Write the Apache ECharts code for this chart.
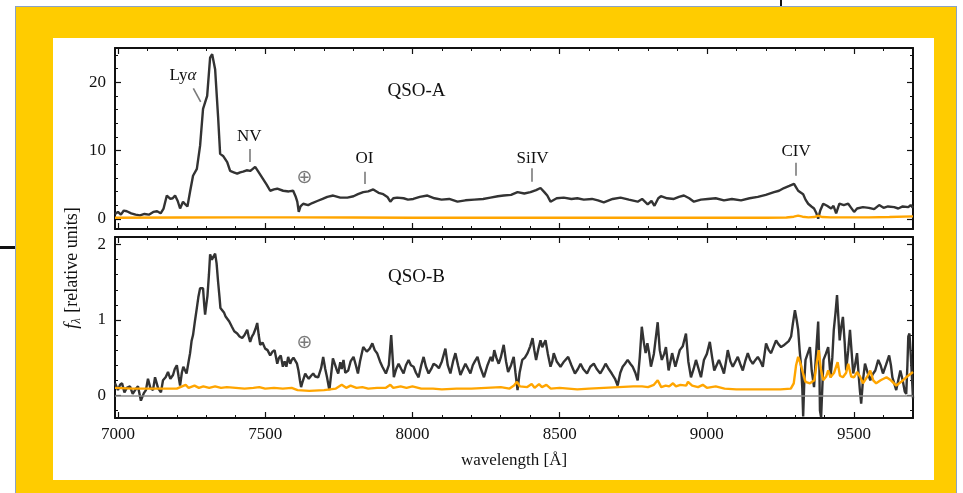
<!DOCTYPE html>
<html>
<head>
<meta charset="utf-8">
<script src="https://cdn.jsdelivr.net/npm/echarts@6/dist/echarts.min.js"></script>
<style>
html,body{margin:0;padding:0;background:#fff;width:963px;height:493px;overflow:hidden;position:relative}
.abs{position:absolute}
</style>
</head>
<body>
<div class="abs" style="left:15px;top:6px;width:942px;height:500px;background:#FFCC00;border:1px solid #8aa2c4;box-sizing:border-box"></div>
<div class="abs" style="left:53px;top:38px;width:881px;height:442px;background:#fff"></div>
<div class="abs" style="left:0px;top:246px;width:15px;height:3px;background:#111"></div>
<div class="abs" style="left:780px;top:0px;width:2px;height:6px;background:#111"></div>
<div id="chart" class="abs" style="left:0;top:0;width:963px;height:493px"></div>
<script>
// ---------------- data ----------------
const xMajor = [7000, 7500, 8000, 8500, 9000, 9500];
const xMinor = [7000,7100,7200,7300,7400,7500,7600,7700,7800,7900,8000,8100,8200,8300,8400,8500,8600,8700,8800,8900,9000,9100,9200,9300,9400,9500,9600,9700];
const yMajorA = [0, 10, 20];
const yMinorA = [0,2,4,6,8,10,12,14,16,18,20,22,24];
const yMajorB = [0, 1, 2];
const yMinorB = [-0.2,0,0.2,0.4,0.6,0.8,1,1.2,1.4,1.6,1.8,2];

// QSO-A flux (black)
const lamA = [6990,7000,7010,7020,7030,7045,7060,7075,7090,7105,7120,7133,7145,7155,7166,7178,7186,7194,7203,7211,7221,7229,7236,7245,7255,7268,7279,7289,7303,7313,7320,7330,7340,7347,7357,7371,7381,7393,7405,7415,7425,7437,7449,7458,7466,7475,7493,7505,7517,7530,7541,7561,7580,7595,7603,7609,7614,7620,7629,7646,7660,7677,7695,7711,7731,7755,7779,7800,7815,7833,7850,7867,7885,7901,7915,7925,7935,7948,7970,7985,8003,8025,8051,8075,8099,8125,8153,8180,8210,8240,8265,8290,8310,8335,8357,8380,8401,8420,8435,8448,8458,8469,8490,8514,8540,8560,8582,8610,8630,8650,8680,8707,8735,8765,8780,8799,8812,8822,8835,8844,8865,8888,8905,8922,8940,8956,8980,9003,9030,9058,9085,9116,9145,9173,9200,9228,9245,9262,9280,9296,9303,9310,9327,9335,9344,9355,9364,9372,9378,9385,9395,9408,9422,9430,9439,9450,9465,9480,9490,9500,9510,9530,9550,9568,9585,9600,9615,9636,9650,9665,9684,9692,9700];
const fluxA = [0.7,1.0,0.6,1.2,1.1,0.8,0.6,0.5,0.7,0.6,1.0,1.1,0.8,1.5,3.4,2.9,3.0,3.4,2.6,1.5,2.5,2.1,1.8,4.0,6.3,7.3,10.7,16.1,18.0,23.6,24.1,21.9,15.0,9.5,9.2,8.3,7.0,6.8,6.6,6.8,6.9,7.1,7.0,7.3,7.6,7.0,5.8,5.0,4.1,4.3,4.4,4.1,4.0,4.1,3.3,2.5,1.0,1.8,2.2,2.0,2.3,2.6,2.9,3.2,3.4,3.1,3.1,3.3,3.6,3.9,4.0,4.3,3.8,3.6,3.2,2.5,3.0,3.1,3.0,2.8,2.9,3.2,3.4,3.0,2.8,2.9,2.5,2.7,2.8,2.9,3.1,3.3,3.4,3.5,3.9,3.7,3.9,4.2,4.5,3.9,3.4,2.5,3.0,3.1,2.9,3.0,2.8,2.9,2.7,2.4,2.9,3.1,2.8,2.5,2.9,2.1,2.6,1.9,3.0,3.3,3.0,2.9,3.2,3.4,3.0,2.5,2.8,2.9,3.0,2.7,2.9,2.7,3.0,3.2,3.5,3.9,4.1,4.5,4.8,5.1,4.6,4.1,3.6,2.8,2.2,1.8,1.5,0.8,0.0,1.2,2.2,1.9,1.5,1.9,0.8,2.2,2.0,2.2,1.6,1.0,1.5,1.7,1.6,1.4,2.0,1.6,1.8,1.7,1.5,1.8,1.7,2.0,1.6];

// QSO-A noise (orange)
const lamAe = [6990,7200,7400,7600,7800,8000,8200,8400,8600,8800,9000,9200,9270,9295,9310,9325,9345,9365,9378,9392,9420,9480,9550,9620,9700];
const errA  = [0.15,0.18,0.2,0.2,0.18,0.15,0.15,0.15,0.15,0.15,0.15,0.15,0.18,0.3,0.45,0.3,0.2,0.25,0.45,0.25,0.2,0.2,0.2,0.25,0.35];

// QSO-B flux (black)
const lamB = [6990,7000,7007,7014,7022,7030,7041,7050,7060,7068,7078,7088,7095,7102,7110,7119,7126,7136,7146,7153,7162,7170,7178,7187,7193,7200,7206,7211,7217,7222,7228,7233,7240,7245,7250,7255,7262,7268,7273,7279,7285,7289,7293,7296,7300,7304,7309,7313,7319,7324,7330,7335,7340,7345,7348,7354,7360,7365,7370,7378,7387,7395,7405,7413,7422,7430,7439,7444,7449,7455,7461,7467,7473,7478,7483,7491,7500,7508,7517,7525,7532,7541,7547,7553,7560,7566,7572,7578,7585,7590,7596,7602,7608,7613,7618,7622,7627,7636,7642,7648,7656,7663,7670,7680,7690,7697,7704,7710,7718,7724,7730,7735,7742,7748,7755,7760,7766,7772,7782,7790,7800,7808,7815,7822,7833,7845,7855,7864,7872,7880,7890,7898,7910,7920,7928,7937,7945,7953,7962,7970,7978,7987,7995,8004,8012,8021,8030,8038,8046,8055,8064,8072,8080,8090,8100,8112,8120,8129,8138,8146,8155,8163,8172,8180,8188,8197,8205,8212,8221,8230,8243,8255,8266,8272,8278,8285,8293,8300,8310,8318,8325,8335,8344,8350,8357,8364,8373,8382,8391,8400,8408,8414,8420,8428,8435,8441,8447,8452,8460,8469,8475,8480,8490,8503,8515,8529,8540,8552,8562,8571,8580,8593,8604,8616,8626,8638,8647,8656,8665,8677,8688,8697,8706,8714,8722,8731,8740,8748,8757,8765,8772,8779,8786,8792,8798,8804,8810,8820,8833,8840,8847,8855,8861,8870,8882,8893,8908,8918,8929,8937,8946,8955,8963,8972,8980,8990,9000,9010,9018,9025,9033,9041,9050,9058,9065,9071,9080,9088,9097,9105,9113,9122,9130,9139,9147,9156,9165,9173,9182,9190,9196,9201,9210,9218,9227,9235,9243,9252,9260,9269,9278,9286,9292,9299,9305,9310,9315,9320,9324,9327,9331,9335,9342,9350,9356,9364,9370,9378,9382,9384,9388,9392,9396,9404,9412,9420,9426,9431,9437,9442,9447,9451,9456,9462,9468,9473,9480,9486,9492,9497,9503,9510,9516,9520,9524,9530,9537,9546,9555,9563,9572,9582,9590,9598,9608,9619,9625,9630,9637,9643,9650,9657,9665,9672,9677,9681,9684,9688,9693,9700];
const fluxB = [0.16,0.07,0.14,0.16,0.04,0.10,0.12,0.02,0.08,0.12,-0.07,0.03,0.07,0.22,0.10,0.07,0.24,0.10,0.04,0.20,0.24,0.31,0.22,0.27,0.35,0.40,0.25,0.13,0.30,0.38,0.33,0.29,0.45,0.56,0.72,0.80,1.00,1.16,1.30,1.42,1.40,1.42,1.20,1.07,1.20,1.32,1.60,1.87,1.80,1.82,1.88,1.75,1.51,1.30,1.16,1.13,1.10,1.05,1.04,0.98,0.91,0.85,0.82,0.78,0.76,0.80,0.87,0.78,0.71,0.78,0.82,0.88,0.96,0.80,0.67,0.70,0.62,0.60,0.53,0.58,0.60,0.42,0.50,0.53,0.38,0.45,0.38,0.51,0.42,0.47,0.50,0.51,0.42,0.33,0.20,0.11,0.18,0.29,0.25,0.22,0.26,0.29,0.25,0.24,0.36,0.51,0.35,0.24,0.07,0.28,0.49,0.51,0.35,0.29,0.44,0.35,0.47,0.30,0.33,0.45,0.51,0.40,0.29,0.45,0.64,0.58,0.62,0.69,0.60,0.56,0.45,0.38,0.29,0.40,0.80,0.24,0.35,0.42,0.35,0.29,0.40,0.47,0.40,0.38,0.30,0.24,0.40,0.51,0.38,0.29,0.35,0.42,0.40,0.36,0.45,0.62,0.40,0.29,0.45,0.56,0.40,0.27,0.35,0.42,0.36,0.29,0.40,0.45,0.51,0.38,0.24,0.40,0.51,0.45,0.60,0.50,0.42,0.50,0.67,0.45,0.31,0.40,0.51,0.30,0.07,0.30,0.47,0.50,0.56,0.65,0.76,0.60,0.47,0.62,0.73,0.64,0.64,0.73,0.55,0.38,0.45,0.56,0.45,0.38,0.45,0.51,0.40,0.29,0.35,0.42,0.35,0.29,0.38,0.42,0.35,0.29,0.35,0.42,0.36,0.29,0.22,0.13,0.30,0.38,0.42,0.47,0.42,0.38,0.30,0.20,0.50,0.91,0.70,0.56,0.69,0.56,0.38,0.55,0.97,0.60,0.47,0.55,0.64,0.33,0.56,0.38,0.60,0.65,0.82,0.45,0.24,0.35,0.47,0.35,0.24,0.47,0.55,0.71,0.50,0.33,0.40,0.47,0.38,0.29,0.45,0.60,0.45,0.38,0.45,0.51,0.42,0.33,0.45,0.56,0.47,0.42,0.47,0.51,0.45,0.38,0.55,0.69,0.60,0.56,0.65,0.73,0.68,0.64,0.66,0.69,0.72,0.78,0.95,1.13,1.00,0.87,0.60,0.38,0.10,-0.28,0.20,0.47,0.55,0.64,0.33,0.11,0.50,0.98,0.40,-0.20,-0.29,0.10,0.47,0.55,0.64,0.24,0.50,0.87,1.10,1.33,1.00,0.73,0.90,1.04,0.70,0.33,0.60,0.87,0.55,0.29,0.40,0.56,0.24,0.05,-0.11,0.20,0.42,0.30,0.20,0.28,0.33,0.47,0.40,0.29,0.40,0.53,0.40,0.24,0.15,0.07,0.20,0.33,0.20,0.05,0.02,0.40,0.78,0.82,0.50,-0.04];

// QSO-B noise (orange)
const lamBe = [6990,7050,7100,7150,7200,7230,7240,7260,7275,7290,7310,7330,7350,7370,7400,7430,7460,7480,7500,7530,7560,7590,7610,7650,7700,7740,7760,7775,7790,7810,7830,7850,7880,7910,7925,7935,7960,7980,8000,8030,8070,8100,8150,8200,8250,8300,8330,8345,8355,8365,8390,8405,8415,8430,8440,8455,8470,8500,8530,8560,8600,8650,8700,8750,8780,8800,8820,8833,8845,8860,8872,8885,8895,8910,8930,8936,8950,8970,8986,9000,9030,9060,9100,9150,9200,9250,9285,9295,9303,9310,9318,9326,9335,9350,9365,9372,9380,9387,9395,9405,9412,9420,9432,9444,9452,9462,9473,9480,9490,9500,9510,9520,9530,9545,9555,9565,9575,9590,9610,9625,9643,9660,9677,9690,9700];
const errB  = [0.10,0.09,0.09,0.09,0.09,0.14,0.10,0.13,0.10,0.12,0.10,0.12,0.10,0.11,0.10,0.09,0.10,0.11,0.09,0.10,0.09,0.10,0.07,0.06,0.07,0.09,0.14,0.10,0.13,0.10,0.11,0.09,0.10,0.10,0.14,0.10,0.12,0.10,0.12,0.09,0.09,0.08,0.09,0.09,0.10,0.11,0.09,0.13,0.18,0.12,0.11,0.15,0.10,0.15,0.11,0.14,0.09,0.10,0.09,0.08,0.09,0.10,0.11,0.12,0.12,0.11,0.14,0.20,0.11,0.13,0.12,0.16,0.12,0.14,0.13,0.18,0.13,0.11,0.14,0.10,0.12,0.09,0.08,0.08,0.08,0.08,0.09,0.16,0.40,0.51,0.42,0.30,0.18,0.16,0.20,0.40,0.60,0.35,0.20,0.25,0.33,0.24,0.30,0.44,0.26,0.24,0.30,0.42,0.25,0.24,0.31,0.25,0.16,0.25,0.33,0.20,0.16,0.20,0.24,0.20,0.13,0.18,0.24,0.28,0.31];

// annotations: [wavelength, value, text]
const labelsA = [[7221, 21.0, 'Ly{i|α}'], [7446, 12.1, 'NV'], [7837, 8.8, 'OI'], [8408, 8.8, 'SiIV'], [9303, 9.8, 'CIV'], [8014, 18.7, '{q|QSO-A}']];
const tellA = [[7633, 6.0]];
const ticksA = [[[7256, 19.1], [7281, 17.1]], [[7449, 10.2], [7449, 8.3]], [[7837, 6.9], [7837, 5.1]], [[8405, 7.4], [8405, 5.4]], [[9303, 8.2], [9303, 6.3]]];
const labelsB = [[8014, 1.57, '{q|QSO-B}']];
const tellB = [[7633, 0.69]];

// ---------------- chart ----------------
const FONT = "'Liberation Serif','DejaVu Serif','Times New Roman',serif";
const INK = '#111111';
const chart = echarts.init(document.getElementById('chart'), null, {renderer: 'canvas'});
const plain = v => String(v);

function xAxesFor(gi, showLabels) {
  const base = {type: 'value', gridIndex: gi, min: 6990, max: 9700, splitLine: {show: false}};
  const res = [];
  ['bottom', 'top'].forEach(pos => {
    res.push(Object.assign({}, base, {
      position: pos,
      axisLine: {show: true, onZero: false, lineStyle: {color: INK, width: 2}},
      axisTick: {show: true, inside: true, length: 6, customValues: xMajor, lineStyle: {color: INK, width: 1.2}},
      axisLabel: {show: showLabels && pos === 'bottom', customValues: xMajor, formatter: plain, fontFamily: FONT, fontSize: 17, color: INK, margin: 8},
      name: (showLabels && pos === 'bottom') ? 'wavelength [Å]' : '',
      nameLocation: 'middle', nameGap: 34,
      nameTextStyle: {fontFamily: FONT, fontSize: 17, color: INK}
    }));
    res.push(Object.assign({}, base, {
      position: pos,
      axisLine: {show: false, onZero: false},
      axisTick: {show: true, inside: true, length: 3, customValues: xMinor, lineStyle: {color: INK, width: 1}},
      axisLabel: {show: false}
    }));
  });
  return res;
}
function yAxesFor(gi, min, max, major, minor) {
  const base = {type: 'value', gridIndex: gi, min: min, max: max, splitLine: {show: false}};
  const res = [];
  ['left', 'right'].forEach(pos => {
    res.push(Object.assign({}, base, {
      position: pos,
      axisLine: {show: true, onZero: false, lineStyle: {color: INK, width: 2}},
      axisTick: {show: true, inside: true, length: 6, customValues: major, lineStyle: {color: INK, width: 1.2}},
      axisLabel: {show: pos === 'left', customValues: major, formatter: plain, fontFamily: FONT, fontSize: 17, color: INK, margin: 9}
    }));
    res.push(Object.assign({}, base, {
      position: pos,
      axisLine: {show: false, onZero: false},
      axisTick: {show: true, inside: true, length: 3, customValues: minor, lineStyle: {color: INK, width: 1}},
      axisLabel: {show: false}
    }));
  });
  return res;
}

const pair = (xs, ys) => xs.map((x, i) => [x, ys[i]]);
const labelSeries = (xi, yi, arr) => ({
  type: 'scatter', xAxisIndex: xi, yAxisIndex: yi, symbolSize: 1,
  itemStyle: {color: 'rgba(0,0,0,0)', opacity: 1}, silent: true, z: 5,
  data: arr,
  label: {show: true, position: 'inside', formatter: p => p.data[2], opacity: 1,
    fontFamily: FONT, fontSize: 17, color: INK,
    rich: {
      i: {fontFamily: FONT, fontStyle: 'italic', fontSize: 17, color: INK},
      q: {fontFamily: FONT, fontSize: 19, color: INK}
    }}
});
const tellSeries = (xi, yi, arr) => ({
  type: 'scatter', xAxisIndex: xi, yAxisIndex: yi, symbolSize: 1,
  itemStyle: {color: 'rgba(0,0,0,0)', opacity: 1}, silent: true, z: 5,
  data: arr,
  label: {show: true, position: 'inside', formatter: '⊕', opacity: 1, fontFamily: "'DejaVu Sans',sans-serif", fontSize: 19, color: '#7a7a7a'}
});

const option = {
  animation: false,
  backgroundColor: 'transparent',
  grid: [
    {left: 115, right: 50, top: 48, height: 181},
    {left: 115, right: 50, top: 237, height: 181}
  ],
  xAxis: [].concat(xAxesFor(0, false), xAxesFor(1, true)),
  yAxis: [].concat(yAxesFor(0, -1.5, 25, yMajorA, yMinorA), yAxesFor(1, -0.3, 2.1, yMajorB, yMinorB)),
  graphic: [{
    type: 'text', x: 72, y: 268, rotation: Math.PI / 2,
    style: {
      text: '{f|f}{s|λ}{n| [relative units]}',
      textAlign: 'center', textVerticalAlign: 'middle',
      rich: {
        f: {fontFamily: FONT, fontStyle: 'italic', fontSize: 19, fill: INK},
        s: {fontFamily: FONT, fontStyle: 'italic', fontSize: 12, fill: INK, padding: [10, 1, 0, 0]},
        n: {fontFamily: FONT, fontSize: 18, fill: INK}
      }
    }
  }],
  series: [
    {
      type: 'line', xAxisIndex: 0, yAxisIndex: 0, data: pair(lamA, fluxA),
      showSymbol: false, symbol: 'none', lineStyle: {color: '#333', width: 2.4}, z: 2, silent: true
    },
    {
      type: 'line', xAxisIndex: 0, yAxisIndex: 0, data: pair(lamAe, errA),
      showSymbol: false, symbol: 'none', lineStyle: {color: '#FFA500', width: 2.4}, z: 3, silent: true
    },
    Object.assign(labelSeries(0, 0, labelsA), {
      markLine: {silent: true, symbol: ['none', 'none'], label: {show: false},
        lineStyle: {color: '#7a7a7a', width: 1.6, type: 'solid'},
        data: ticksA.map(t => [{coord: t[0]}, {coord: t[1]}])}
    }),
    tellSeries(0, 0, tellA),
    {
      type: 'scatter', xAxisIndex: 4, yAxisIndex: 4, data: [], z: 1, silent: true,
      markLine: {silent: true, symbol: ['none', 'none'], label: {show: false},
        lineStyle: {color: '#8a8a8a', width: 1.5, type: 'solid'}, data: [{yAxis: 0}]}
    },
    {
      type: 'line', xAxisIndex: 4, yAxisIndex: 4, data: pair(lamB, fluxB),
      showSymbol: false, symbol: 'none', lineStyle: {color: '#333', width: 2.4}, z: 2, silent: true
    },
    {
      type: 'line', xAxisIndex: 4, yAxisIndex: 4, data: pair(lamBe, errB),
      showSymbol: false, symbol: 'none', lineStyle: {color: '#FFA500', width: 2.4}, z: 3, silent: true
    },
    labelSeries(4, 4, labelsB),
    tellSeries(4, 4, tellB)
  ]
};
chart.setOption(option);
</script>
</body>
</html>
